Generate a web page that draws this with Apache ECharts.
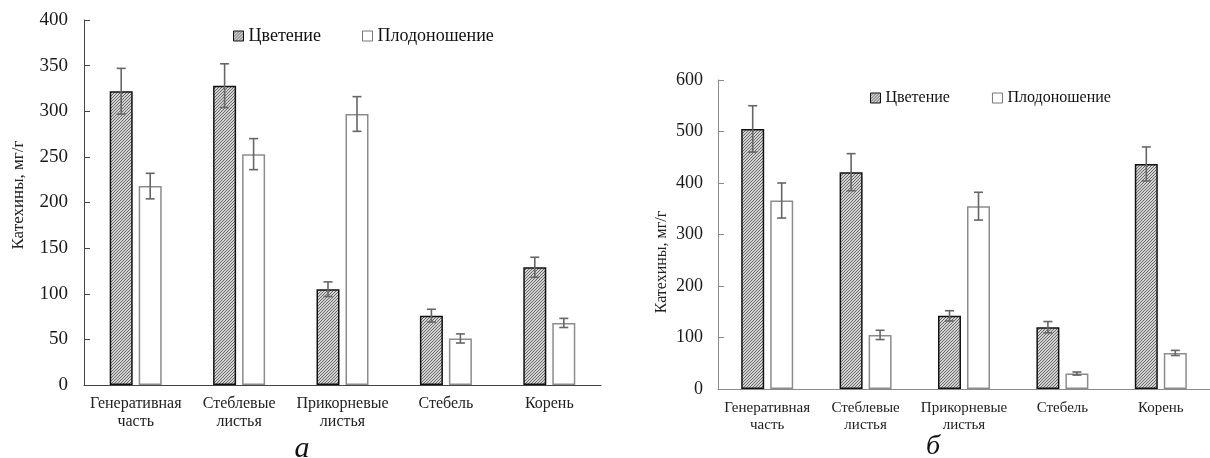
<!DOCTYPE html>
<html><head><meta charset="utf-8">
<script src="https://cdn.jsdelivr.net/npm/echarts@6/dist/echarts.min.js"></script>
<style>html,body{margin:0;padding:0;background:#fff}#c{width:1210px;height:458px}</style>
</head><body><div id="c"></div>
<script>
// ---- data ----
const categories = ['Генеративная\nчасть', 'Стеблевые\nлистья', 'Прикорневые\nлистья', 'Стебель', 'Корень'];
const seriesNames = ['Цветение', 'Плодоношение'];
const yAxisTitle = 'Катехины, мг/г';
const panelLabels = ['а', 'б'];
// panel а
const aFlower    = [322, 328, 105, 76, 129];
const aFlowerErr = [25, 24, 8, 7, 11];
const aFruit     = [218, 253, 297, 51, 68];
const aFruitErr  = [14, 17, 19, 5, 5];
const aYMax = 400, aYStep = 50;
// panel б
const bFlower    = [505, 421, 142, 120, 437];
const bFlowerErr = [45, 36, 10, 11, 33];
const bFruit     = [366, 105, 355, 30, 70];
const bFruitErr  = [34, 9, 27, 3, 5];
const bYMax = 600, bYStep = 100;

// ---- style ----
const FONT = '"Liberation Serif", "Times New Roman", serif';
const BAR_W = 23, BAR_GAP = 6;
const OFF = (BAR_W + BAR_GAP) / 2;

function hatch() {
  const c = document.createElement('canvas');
  c.width = c.height = 3;
  const g = c.getContext('2d');
  g.fillStyle = '#d2d2d2'; g.fillRect(0, 0, 3, 3);
  g.fillStyle = '#6a6a6a';
  for (let i = 0; i < 3; i++) g.fillRect(i, 2 - i, 1, 1);
  return c;
}
const hatchFill = { image: hatch(), repeat: 'repeat' };
const flowerStyle = { color: hatchFill, borderColor: '#111', borderWidth: 1.5 };
const fruitStyle = { color: '#fff', borderColor: '#8c8c8c', borderWidth: 1.5 };

function errSeries(vals, errs, axisIdx, offset) {
  return {
    type: 'custom', xAxisIndex: axisIdx, yAxisIndex: axisIdx, silent: true, z: 10,
    data: vals.map((v, i) => [i, v - errs[i], v + errs[i]]),
    renderItem(params, api) {
      const lo = api.coord([api.value(0), api.value(1)]);
      const hi = api.coord([api.value(0), api.value(2)]);
      const x = lo[0] + offset, cw = 4.5;
      const st = { stroke: '#666', lineWidth: 1.6 };
      return { type: 'group', children: [
        { type: 'line', shape: { x1: x, y1: hi[1], x2: x, y2: lo[1] }, style: st },
        { type: 'line', shape: { x1: x - cw, y1: hi[1], x2: x + cw, y2: hi[1] }, style: st },
        { type: 'line', shape: { x1: x - cw, y1: lo[1], x2: x + cw, y2: lo[1] }, style: st }
      ] };
    }
  };
}

function xAxisCfg(idx, lineColor, fs, margin) {
  return {
    type: 'category', gridIndex: idx, data: categories,
    axisLine: { lineStyle: { color: lineColor, width: 1 } },
    axisTick: { show: false },
    axisLabel: { fontFamily: FONT, fontSize: fs, color: '#222', lineHeight: fs + 2, margin: margin, interval: 0 }
  };
}
function yAxisCfg(idx, max, step, lineColor, fs, margin) {
  return {
    type: 'value', gridIndex: idx, min: 0, max: max, interval: step,
    splitLine: { show: false },
    axisLine: { show: true, lineStyle: { color: lineColor, width: 1 } },
    axisTick: { show: true, inside: true, length: 6, lineStyle: { color: lineColor } },
    axisLabel: { fontFamily: FONT, fontSize: fs, color: '#1a1a1a', margin: margin }
  };
}
function legendCfg(left, top, fs, gap) {
  return {
    left: left, top: top, itemWidth: 10, itemHeight: 10, itemGap: gap, icon: 'rect',
    textStyle: { fontFamily: FONT, fontSize: fs, color: '#111' },
    data: [
      { name: seriesNames[0], itemStyle: { color: hatchFill, borderColor: '#111', borderWidth: 1 } },
      { name: seriesNames[1], itemStyle: { color: '#fff', borderColor: '#777', borderWidth: 1 } }
    ]
  };
}
function barSeries(name, vals, idx, style) {
  return { type: 'bar', name: name, xAxisIndex: idx, yAxisIndex: idx, data: vals,
    barWidth: BAR_W, barGap: (BAR_GAP / BAR_W * 100) + '%', itemStyle: style, silent: true };
}

const chart = echarts.init(document.getElementById('c'));
chart.setOption({
  animation: false,
  backgroundColor: '#fff',
  grid: [
    { left: 84, top: 20, width: 517, bottom: 73 },
    { left: 718, top: 80, width: 504, bottom: 69 }
  ],
  legend: [legendCfg(228, 22, 18, 41), legendCfg(865, 85, 16, 42)],
  xAxis: [xAxisCfg(0, '#444', 16, 10), xAxisCfg(1, '#8a8a8a', 15, 11)],
  yAxis: [yAxisCfg(0, aYMax, aYStep, '#444', 19, 16), yAxisCfg(1, bYMax, bYStep, '#8a8a8a', 18, 15)],
  series: [
    barSeries(seriesNames[0], aFlower, 0, flowerStyle),
    barSeries(seriesNames[1], aFruit, 0, fruitStyle),
    barSeries(seriesNames[0], bFlower, 1, flowerStyle),
    barSeries(seriesNames[1], bFruit, 1, fruitStyle),
    errSeries(aFlower, aFlowerErr, 0, -OFF),
    errSeries(aFruit, aFruitErr, 0, OFF),
    errSeries(bFlower, bFlowerErr, 1, -OFF),
    errSeries(bFruit, bFruitErr, 1, OFF)
  ],
  graphic: [
    { type: 'text', x: 19, y: 195, rotation: Math.PI / 2,
      style: { text: yAxisTitle, font: '17px ' + FONT, fill: '#222', align: 'center', verticalAlign: 'middle' } },
    { type: 'text', x: 662, y: 262, rotation: Math.PI / 2,
      style: { text: yAxisTitle, font: '16px ' + FONT, fill: '#222', align: 'center', verticalAlign: 'middle' } },
    { type: 'text', x: 302, y: 449,
      style: { text: panelLabels[0], font: 'italic 30px ' + FONT, fill: '#111', align: 'center', verticalAlign: 'middle' } },
    { type: 'text', x: 933, y: 447,
      style: { text: panelLabels[1], font: 'italic 28px ' + FONT, fill: '#111', align: 'center', verticalAlign: 'middle' } }
  ]
});
</script></body></html>
